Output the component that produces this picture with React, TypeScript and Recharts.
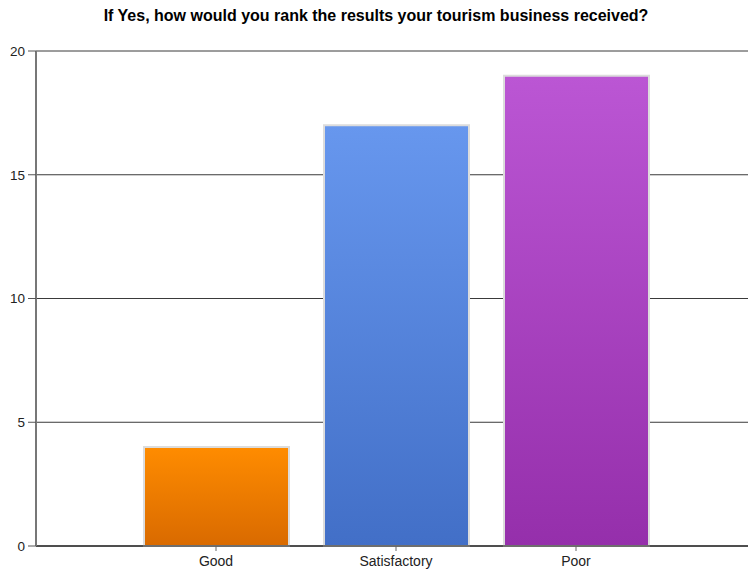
import { BarChart, Bar, XAxis, YAxis, CartesianGrid, Cell } from "recharts";

const categories = ["Good", "Satisfactory", "Poor"];
const counts = [4, 17, 19];
const yTicks = [0, 5, 10, 15, 20];

// top / bottom colours of each bar's vertical gradient
const GRADS = [
  ["#FF8C00", "#D96A00"],
  ["#6797EE", "#426FC7"],
  ["#BB56D4", "#952FAB"],
];

const data = categories.map((name, i) => ({ name, value: counts[i] }));

const FONT = "Arial, 'Liberation Sans', Helvetica, sans-serif";

export default function App() {
  return (
    <div
      style={{
        position: "absolute",
        left: 0,
        top: 0,
        width: 748,
        height: 571,
        background: "#fff",
        fontFamily: FONT,
      }}
    >
      <div
        style={{
          position: "absolute",
          top: 7,
          left: 0,
          width: 752,
          textAlign: "center",
          fontWeight: "bold",
          fontSize: 16,
          color: "#000",
        }}
      >
        If Yes, how would you rank the results your tourism business received?
      </div>
      <BarChart
        width={748}
        height={571}
        data={data}
        margin={{ top: 51, right: 0, bottom: 0, left: 0 }}
      >
        <defs>
          {GRADS.map(([top, bottom], i) => (
            <linearGradient key={i} id={`bar${i}`} x1="0" y1="0" x2="0" y2="1">
              <stop offset="0%" stopColor={top} />
              <stop offset="100%" stopColor={bottom} />
            </linearGradient>
          ))}
        </defs>
        <CartesianGrid vertical={false} stroke="#3a3a3a" strokeDasharray="0" />
        <XAxis
          dataKey="name"
          height={25}
          padding={{ left: 90, right: 82 }}
          axisLine={{ stroke: "#000", strokeWidth: 1 }}
          tickLine={{ stroke: "#666" }}
          tickSize={5}
          tickMargin={5}
          tick={{ fill: "#222", fontSize: 14, fontFamily: FONT }}
        />
        <YAxis
          width={36}
          domain={[0, 20]}
          ticks={yTicks}
          interval={0}
          axisLine={{ stroke: "#777", strokeWidth: 2 }}
          tickLine={{ stroke: "#555" }}
          tickSize={8}
          tickMargin={3}
          tick={{ fill: "#222", fontSize: 13.5, fontFamily: FONT }}
        />
        <Bar
          dataKey="value"
          barSize={145}
          stroke="#dcdcdc"
          strokeWidth={2}
          isAnimationActive={false}
        >
          {data.map((d, i) => (
            <Cell key={d.name} fill={`url(#bar${i})`} />
          ))}
        </Bar>
      </BarChart>
    </div>
  );
}
